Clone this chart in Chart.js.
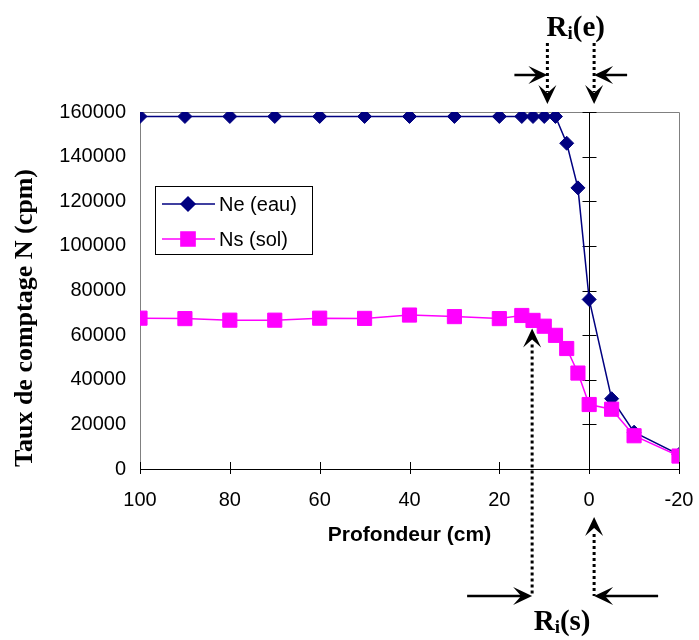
<!DOCTYPE html>
<html>
<head>
<meta charset="utf-8">
<script src="https://cdn.jsdelivr.net/npm/chart.js@4.4.0/dist/chart.umd.min.js"></script>
<style>
html, body { margin: 0; padding: 0; background: #fff; }
#wrap { width: 699px; height: 640px; }
</style>
</head>
<body>
<div id="wrap"><canvas id="graphique" width="699" height="640"></canvas></div>
<script>
// profondeur (cm) et taux de comptage (cpm)
var profondeur = [100, 90, 80, 70, 60, 50, 40, 30, 20, 15, 12.5, 10, 7.5, 5, 2.5, 0, -5, -10, -20];
var neEau = [158000, 158000, 158000, 158000, 158000, 158000, 158000, 158000, 158000, 158000, 158000, 158000, 158000,
             146000, 126000, 76000, 31500, 16500, 6500];
var nsSol = [67600, 67400, 66700, 66700, 67600, 67500, 69000, 68300, 67400, 68800, 66600, 64000, 59900,
             54000, 43000, 28900, 26800, 14900, 5800];

// rayons d'influence (cm)
var riE = [9.3, -1.1];
var riS = [12.7, -1.1];
var pointeRiS = 63000;

var police = 'Arial, "Liberation Sans", sans-serif';
var serif = '"Times New Roman", "Liberation Serif", serif';

function points(valeurs) {
    return profondeur.map(function (x, i) { return { x: x, y: valeurs[i] }; });
}

function pointe(ctx, x, y, angle) {
    ctx.save();
    ctx.translate(x, y);
    ctx.rotate(angle);
    ctx.beginPath();
    ctx.moveTo(0, 0);
    ctx.lineTo(-19, -9);
    ctx.lineTo(-11, 0);
    ctx.lineTo(-19, 9);
    ctx.closePath();
    ctx.fill();
    ctx.restore();
}

function pointilles(ctx, x, y1, y2) {
    ctx.save();
    ctx.setLineDash([3, 3]);
    ctx.lineWidth = 3;
    ctx.beginPath();
    ctx.moveTo(x, y1);
    ctx.lineTo(x, y2);
    ctx.stroke();
    ctx.restore();
}

function fleche(ctx, x1, x2, y) {
    ctx.save();
    ctx.lineWidth = 2.5;
    ctx.beginPath();
    ctx.moveTo(x1, y);
    ctx.lineTo(x2 + (x2 > x1 ? -10 : 10), y);
    ctx.stroke();
    ctx.restore();
    pointe(ctx, x2, y, x2 > x1 ? 0 : Math.PI);
}

function texteRi(ctx, cx, base, suite) {
    var grand = 'bold 29px ' + serif;
    var petit = 'bold 19px ' + serif;
    ctx.font = grand;
    var wR = ctx.measureText('R').width;
    var wS = ctx.measureText(suite).width;
    ctx.font = petit;
    var wi = ctx.measureText('i').width;
    var x = cx - (wR + wi + wS) / 2;
    ctx.textAlign = 'left';
    ctx.textBaseline = 'alphabetic';
    ctx.font = grand;
    ctx.fillText('R', x, base);
    ctx.font = petit;
    ctx.fillText('i', x + wR, base + 3);
    ctx.font = grand;
    ctx.fillText(suite, x + wR + wi, base);
}

var decor = {
    id: 'decor',
    beforeDatasetsDraw: function (chart) {
        var ctx = chart.ctx, a = chart.chartArea;
        var sx = chart.scales.x, sy = chart.scales.y;
        ctx.save();
        // cadre gris
        ctx.strokeStyle = '#808080';
        ctx.lineWidth = 1;
        ctx.beginPath();
        ctx.moveTo(a.left, a.top + 0.5);
        ctx.lineTo(a.right + 0.5, a.top + 0.5);
        ctx.lineTo(a.right + 0.5, a.bottom);
        ctx.stroke();
        // axe vertical en x = 0
        var x0 = Math.round(sx.getPixelForValue(0)) + 0.5;
        ctx.strokeStyle = '#000';
        ctx.beginPath();
        ctx.moveTo(x0, a.top);
        ctx.lineTo(x0, a.bottom);
        sy.ticks.forEach(function (t) {
            var y = Math.round(sy.getPixelForValue(t.value)) + 0.5;
            ctx.moveTo(x0 - 7, y);
            ctx.lineTo(x0 + 7, y);
        });
        // graduations de l'axe horizontal
        sx.ticks.forEach(function (t) {
            var x = Math.round(sx.getPixelForValue(t.value)) + 0.5;
            ctx.moveTo(x, a.bottom - 7);
            ctx.lineTo(x, a.bottom + 5);
        });
        ctx.stroke();
        ctx.restore();
    },
    afterDraw: function (chart) {
        var ctx = chart.ctx, a = chart.chartArea;
        var sx = chart.scales.x, sy = chart.scales.y;
        ctx.save();

        // titre de l'axe vertical
        ctx.save();
        ctx.translate(25, 318);
        ctx.rotate(-Math.PI / 2);
        ctx.font = 'bold 26px ' + serif;
        ctx.fillStyle = '#000';
        ctx.textAlign = 'center';
        ctx.textBaseline = 'middle';
        ctx.fillText('Taux de comptage N (cpm)', 0, 0);
        ctx.restore();

        // légende
        var lx = a.left + 15, ly = a.top + 74;
        ctx.fillStyle = '#fff';
        ctx.fillRect(lx, ly, 157, 68);
        ctx.strokeStyle = '#000';
        ctx.lineWidth = 1;
        ctx.strokeRect(lx + 0.5, ly + 0.5, 157, 68);
        chart.data.datasets.forEach(function (ds, i) {
            var y = ly + 18 + i * 35;
            ctx.strokeStyle = ds.borderColor;
            ctx.lineWidth = 1.5;
            ctx.beginPath();
            ctx.moveTo(lx + 7, y);
            ctx.lineTo(lx + 60, y);
            ctx.stroke();
            ctx.fillStyle = ds.backgroundColor;
            Chart.helpers.drawPoint(ctx, { pointStyle: ds.pointStyle, radius: ds.pointRadius, borderWidth: 1 }, lx + 33, y);
            ctx.fillStyle = '#000';
            ctx.font = '20px ' + police;
            ctx.textAlign = 'left';
            ctx.textBaseline = 'middle';
            ctx.fillText(ds.label, lx + 64, y + 1);
        });

        // annotations Ri(e)
        ctx.fillStyle = '#000';
        ctx.strokeStyle = '#000';
        var e0 = sx.getPixelForValue(riE[0]), e1 = sx.getPixelForValue(riE[1]);
        pointilles(ctx, e0, 43, 92);
        pointilles(ctx, e1, 43, 92);
        pointe(ctx, e0, 104, Math.PI / 2);
        pointe(ctx, e1, 104, Math.PI / 2);
        fleche(ctx, e0 - 33, e0, 75);
        fleche(ctx, e1 + 33, e1, 75);
        texteRi(ctx, (e0 + e1) / 2 + 5, 36, '(e)');

        // annotations Ri(s)
        var s0 = sx.getPixelForValue(riS[0]), s1 = sx.getPixelForValue(riS[1]);
        var tip = sy.getPixelForValue(pointeRiS);
        pointilles(ctx, s0, tip + 16, 596);
        pointilles(ctx, s1, 534, 596);
        pointe(ctx, s0, tip, -Math.PI / 2);
        pointe(ctx, s1, 517, -Math.PI / 2);
        fleche(ctx, s0 - 65, s0, 596);
        fleche(ctx, s1 + 64, s1, 596);
        texteRi(ctx, (s0 + s1) / 2 - 1, 630, '(s)');

        ctx.restore();
    }
};

Chart.defaults.font.family = police;
Chart.defaults.color = '#000';

new Chart(document.getElementById('graphique').getContext('2d'), {
    type: 'line',
    data: {
        datasets: [{
            label: 'Ne (eau)',
            data: points(neEau),
            borderColor: '#000080',
            backgroundColor: '#000080',
            borderWidth: 1.5,
            pointStyle: 'rectRot',
            pointRadius: 7,
            pointBorderWidth: 1,
            order: 1
        }, {
            label: 'Ns (sol)',
            data: points(nsSol),
            borderColor: '#ff00ff',
            backgroundColor: '#ff00ff',
            borderWidth: 1.5,
            pointStyle: 'rect',
            pointRadius: 10,
            pointBorderWidth: 1,
            order: 0
        }]
    },
    options: {
        responsive: false,
        animation: false,
        layout: { padding: { left: 0, top: 112, right: 20, bottom: 0 } },
        plugins: { legend: { display: false }, tooltip: { enabled: false } },
        scales: {
            x: {
                type: 'linear',
                reverse: true,
                min: -20,
                max: 100,
                grid: { display: false, drawTicks: false },
                border: { display: true, color: '#000', width: 1 },
                ticks: { stepSize: 20, padding: 19, font: { size: 20 }, maxRotation: 0 },
                title: {
                    display: true,
                    text: 'Profondeur (cm)',
                    font: { size: 21, weight: 'bold' },
                    padding: { top: 0, bottom: 92 }
                },
                afterFit: function (s) { s.height = 171; s.paddingLeft = 0; s.paddingRight = 0; }
            },
            y: {
                min: 0,
                max: 160000,
                grid: { display: false, drawTicks: false },
                border: { display: true, color: '#808080', width: 1 },
                ticks: {
                    stepSize: 20000,
                    padding: 14,
                    font: { size: 20 },
                    callback: function (v) { return String(v); }
                },
                afterFit: function (s) { s.width = 140; s.paddingTop = 0; s.paddingBottom = 0; }
            }
        }
    },
    plugins: [decor]
});
</script>
</body>
</html>
